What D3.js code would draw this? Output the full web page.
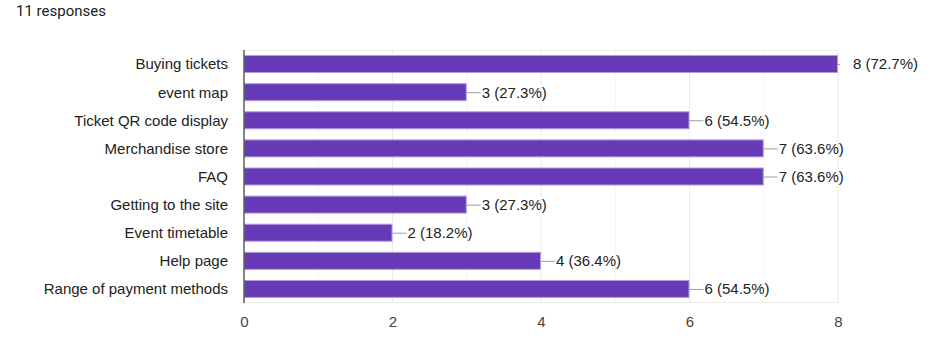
<!DOCTYPE html>
<html><head><meta charset="utf-8">
<script src="https://cdn.jsdelivr.net/npm/d3@7"></script>
<style>body{margin:0;background:#fff;font-family:Arial,"Liberation Sans",sans-serif}</style>
</head><body><svg id="c" width="938" height="344"></svg>
<script>
const categories = ["Buying tickets","event map","Ticket QR code display","Merchandise store","FAQ","Getting to the site","Event timetable","Help page","Range of payment methods"];
const counts = [8,3,6,7,7,3,2,4,6];
const percents = ["72.7%","27.3%","54.5%","63.6%","63.6%","27.3%","18.2%","36.4%","54.5%"];
const xTicks = [0,2,4,6,8];
const gridValues = [1,2,3,4,5,6,7,8];
const totalResponses = 11;

(function(){
const FONT = 'Arial,"Liberation Sans",sans-serif';
const svg = d3.select("#c");
const L = 244, R = 838, T = 50, B = 303;
const x = d3.scaleLinear().domain([0,8]).range([L,R]);
const y = d3.scaleBand().domain(categories).range([T,B]).paddingInner(0.36).paddingOuter(0.18);

svg.append("text").attr("x",16).attr("y",16).attr("font-size",15).attr("font-family","Roboto,Arial,sans-serif").attr("fill","#202124").text(totalResponses+" responses");

// grid
svg.append("g").selectAll("line").data(gridValues).join("line")
  .attr("x1",d=>x(d)).attr("x2",d=>x(d)).attr("y1",T).attr("y2",B)
  .attr("stroke",d=>d%2===0?"#ebebeb":"#f4f4f4").attr("stroke-width",1);
svg.append("line").attr("x1",L).attr("x2",R).attr("y1",T+0.5).attr("y2",T+0.5).attr("stroke","#f2f2f2");
svg.append("line").attr("x1",L).attr("x2",R).attr("y1",B-0.5).attr("y2",B-0.5).attr("stroke","#ebebeb");

// bars
const rows = categories.map((c,i)=>({c,v:counts[i],p:percents[i]}));
svg.append("g").selectAll("rect").data(rows).join("rect")
  .attr("x",x(0)+0.5).attr("y",d=>y(d.c)+0.5)
  .attr("width",d=>x(d.v)-x(0)-1).attr("height",y.bandwidth()-1)
  .attr("fill","#673ab7").attr("stroke","#b39ddb").attr("stroke-width",1);

// leader lines and labels
svg.append("g").selectAll("line").data(rows).join("line")
  .attr("x1",d=>x(d.v)).attr("x2",d=>Math.min(x(d.v)+14,R+2))
  .attr("y1",d=>y(d.c)+y.bandwidth()/2+0.5).attr("y2",d=>y(d.c)+y.bandwidth()/2+0.5)
  .attr("stroke","#9e9e9e").attr("stroke-width",1);
svg.append("g").selectAll("text").data(rows).join("text")
  .attr("x",d=>x(d.v)+15).attr("y",d=>y(d.c)+y.bandwidth()/2).attr("dy","0.36em")
  .attr("font-size",15).attr("font-family",FONT).attr("fill","#222").text(d=>d.v+" ("+d.p+")");

// y axis
const ya = svg.append("g").attr("transform",`translate(${L},0)`).call(d3.axisLeft(y).tickSize(0).tickPadding(16));
ya.select(".domain").remove();
ya.selectAll("text").attr("font-size",15).attr("fill","#222").attr("font-family",FONT).attr("dy","0.36em");
svg.append("line").attr("x1",L).attr("x2",L).attr("y1",T).attr("y2",B).attr("stroke","#333").attr("stroke-width",1.2);

// x axis
const xa = svg.append("g").attr("transform",`translate(0,${B})`).call(d3.axisBottom(x).tickValues(xTicks).tickSize(0).tickPadding(13));
xa.select(".domain").remove();
xa.selectAll("text").attr("font-size",15).attr("fill","#444").attr("font-family",FONT);
})();
</script></body></html>
